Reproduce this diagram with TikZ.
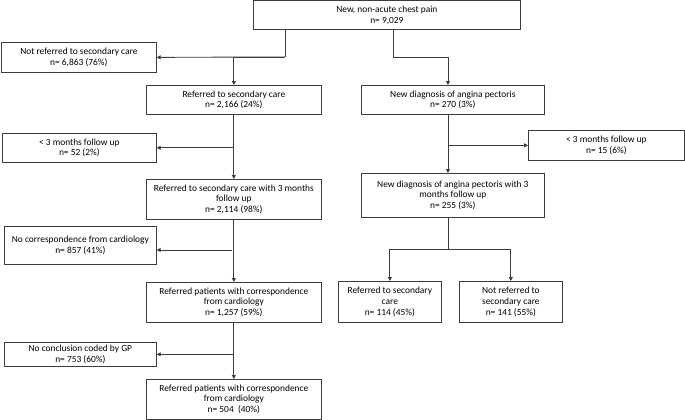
\documentclass[tikz,border=0pt]{standalone}
\usepackage{fontspec}
\setmainfont{Carlito}
\usepackage{tikz}
\usetikzlibrary{arrows.meta}
\definecolor{linegray}{HTML}{3C3C3C}
\tikzset{
  box/.style={draw=linegray,line width=0.7pt,anchor=north west,align=center,inner sep=0pt,
    font=\fontsize{9.4}{10.8}\selectfont},
  flow/.style={draw=linegray,line width=0.9pt},
  arr/.style={flow,-{Triangle[width=4pt,length=4pt]}}
}

\begin{document}
\begin{tikzpicture}[x=1pt,y=-1pt]
            \useasboundingbox (0,0) rectangle (685,420);
            \node (top) at (253,0.5) [box,minimum width=267pt,minimum height=28.5pt] {New, non-acute chest pain\\n= 9,029};
            \node (notref) at (1,42) [box,minimum width=155pt,minimum height=30pt] {Not referred to secondary care\\n= 6,863 (76\%)};
            \node (ref) at (146,85) [box,minimum width=175pt,minimum height=29pt] {Referred to secondary care\\n= 2,166 (24\%)};
            \node (angina) at (361,85) [box,minimum width=183pt,minimum height=29pt] {New diagnosis of angina pectoris\\n= 270 (3\%)};
            \node (lessL) at (2,133) [box,minimum width=154pt,minimum height=29pt] {< 3 months follow up\\n= 52 (2\%)};
            \node (lessR) at (528,130) [box,minimum width=156pt,minimum height=30pt] {< 3 months follow up\\n= 15 (6\%)};
            \node (ref3) at (146,179) [box,minimum width=175pt,minimum height=40pt] {Referred to secondary care with 3 months\\follow up\\n= 2,114 (98\%)};
            \node (ang3) at (361,173) [box,minimum width=183pt,minimum height=44pt] {New diagnosis of angina pectoris with 3\\months follow up\\n= 255 (3\%)};
            \node (nocorr) at (4,226) [box,minimum width=152pt,minimum height=38pt] {No correspondence from cardiology\\n= 857 (41\%)};
            \node (refcorr) at (146,282) [box,minimum width=175pt,minimum height=40pt] {Referred patients with correspondence\\from cardiology\\n= 1,257 (59\%)};
            \node (noconc) at (4,342) [box,minimum width=152pt,minimum height=24pt] {No conclusion coded by GP\\n= 753 (60\%)};
            \node (final) at (146,379) [box,minimum width=175pt,minimum height=40pt] {Referred patients with correspondence\\from cardiology\\n= 504~ (40\%)};
            \node (refR) at (338,281) [box,minimum width=103pt,minimum height=41pt] {Referred to secondary\\care\\n= 114 (45\%)};
            \node (notrefR) at (459,281) [box,minimum width=103pt,minimum height=41pt] {Not referred to\\secondary care\\n= 141 (55\%)};
            \coordinate (jl) at (285,57);
            \coordinate (jr) at (393,57);
            \coordinate (ax) at (448,0);
            \coordinate (jc) at (232,250);
            \coordinate (jb) at (448,249);
            \draw[flow] (top.south -| jl) -- (jl);
            \draw[arr] (jl) -- (notref.east);
            \draw[arr] (jl) -| (ref.north);
            \draw[flow] (top.south -| jr) -- (jr);
            \draw[arr] (jr) -| (angina.north -| ax);
            \draw[arr] (ref.south) -- (ref3.north);
            \draw[arr] (ref.south |- lessL.east) -- (lessL.east);
            \draw[arr] (angina.south -| ax) -- (ang3.north -| ax);
            \draw[arr] (lessR.west -| ax) -- (lessR.west);
            \draw[arr] (ref3.south) -- (refcorr.north);
            \draw[arr] (jc) -- (nocorr.east |- jc);
            \draw[arr] (refcorr.south) -- (final.north);
            \draw[arr] (refcorr.south |- noconc.east) -- (noconc.east);
            \draw[flow] (ang3.south -| ax) -- (jb);
            \draw[arr] (jb) -| (refR.north);
            \draw[arr] (jb) -| (notrefR.north);
\end{tikzpicture}
\end{document}
